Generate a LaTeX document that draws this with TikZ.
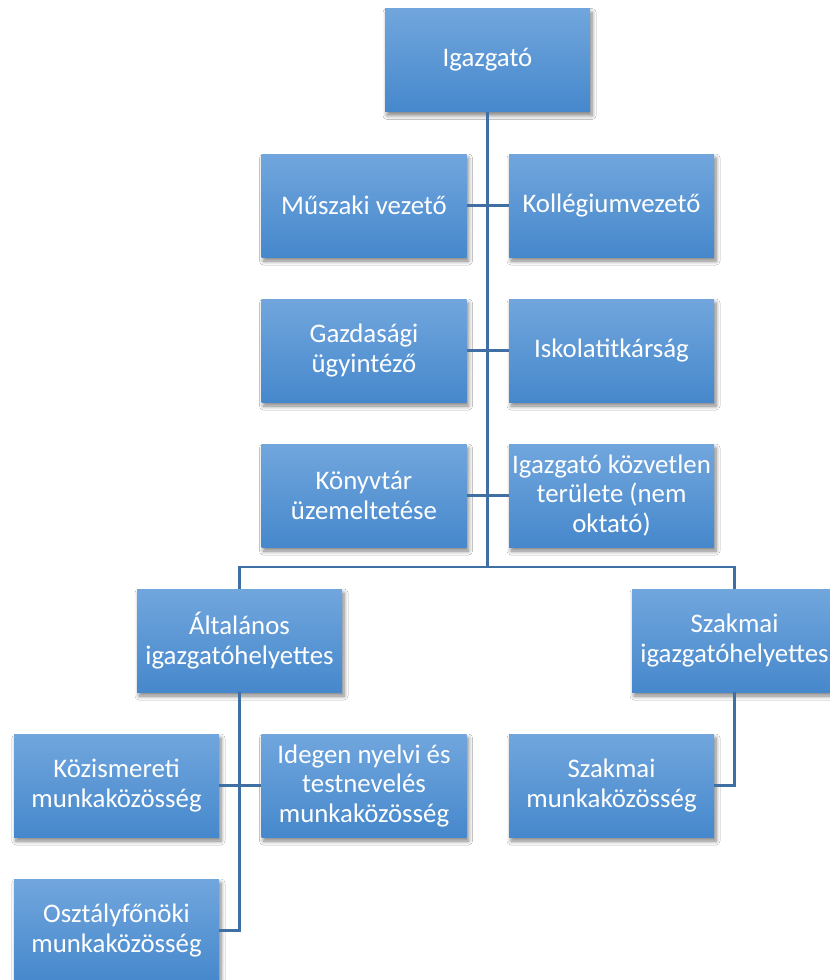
\documentclass[tikz,border=0pt]{standalone}
\usepackage{fontspec}
\setmainfont{Carlito}
\usetikzlibrary{shadows.blur}
\definecolor{boxtop}{RGB}{113,166,221}
\definecolor{boxbot}{RGB}{70,136,204}
\definecolor{linec}{RGB}{64,112,163}
\tikzset{
  orgbox/.style={rectangle, minimum width=205pt, minimum height=103pt, inner sep=0pt,
    top color=boxtop, bottom color=boxbot, draw=none, text=white, align=center,
    font=\fontsize{26.8}{29.5}\selectfont,
    blur shadow={shadow xshift=2pt, shadow yshift=-4pt, shadow blur steps=6, shadow blur radius=4pt, shadow opacity=50}},
  conn/.style={draw=linec, line width=2.4pt}
}
\begin{document}
\begin{tikzpicture}[x=1pt, y=-1pt]
\clip (0,0) rectangle (830,980);
\fill[white] (0,0) rectangle (830,980);
\node[orgbox] (ig) at (487.5,60) {Igazgató};
\node[orgbox] (mv) at (364,205.5) {Műszaki vezető};
\node[orgbox] (kv) at (611.5,205.5) {Kollégiumvezető};
\node[orgbox] (gu) at (364,350.5) {Gazdasági\\ügyintéző};
\node[orgbox] (it) at (611.5,350.5) {Iskolatitkárság};
\node[orgbox] (ku) at (364,495.5) {Könyvtár\\üzemeltetése};
\node[orgbox] (ik) at (611.5,495.5) {Igazgató közvetlen\\területe (nem\\oktató)};
\node[orgbox] (al) at (239.5,640.5) {Általános\\igazgatóhelyettes};
\node[orgbox] (szi) at (734.5,640.5) {Szakmai\\igazgatóhelyettes};
\node[orgbox] (koz) at (116.5,785.5) {Közismereti\\munkaközösség};
\node[orgbox] (ide) at (364,785.5) {Idegen nyelvi és\\testnevelés\\munkaközösség};
\node[orgbox] (osz) at (116.5,930.5) {Osztályfőnöki\\munkaközösség};
\node[orgbox] (szm) at (611.5,785.5) {Szakmai\\munkaközösség};
\coordinate (j1) at (487.5,567);
\draw[conn] (ig.south) -- (j1);
\draw[conn] (mv.east) -- (kv.west);
\draw[conn] (gu.east) -- (it.west);
\draw[conn] (ku.east) -- (ik.west);
\draw[conn] (al.north) |- (j1) -| (szi.north);
\draw[conn] (al.south) |- (osz.east);
\draw[conn] (koz.east) -- (ide.west);
\draw[conn] (szi.south) |- (szm.east);
\end{tikzpicture}
\end{document}
